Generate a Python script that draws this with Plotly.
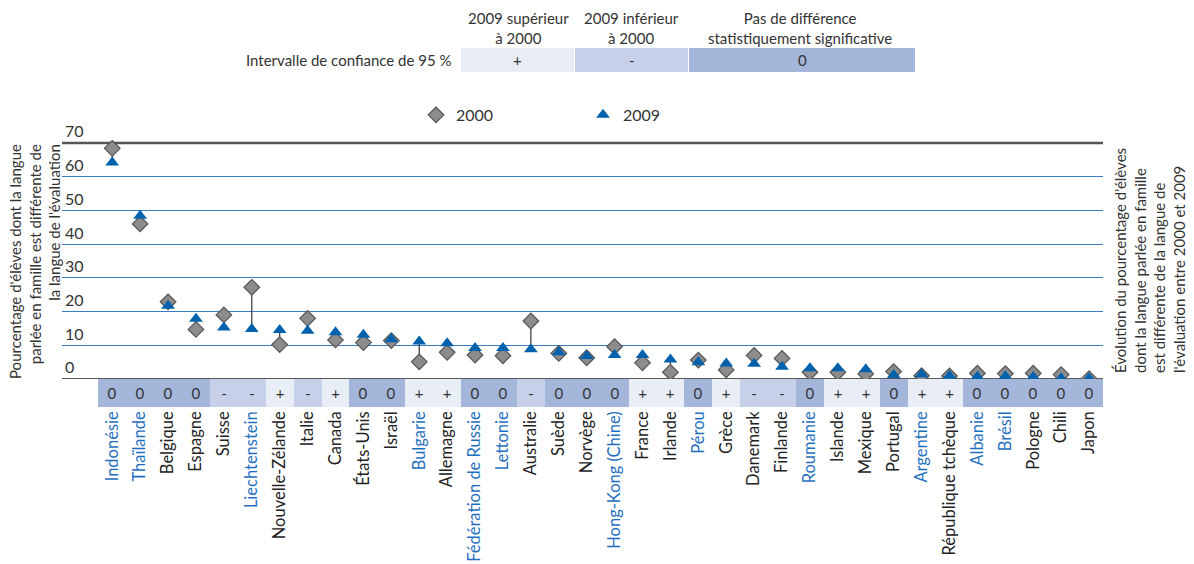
import plotly.graph_objects as go

countries = ["Indonésie", "Thaïlande", "Belgique", "Espagne", "Suisse", "Liechtenstein",
             "Nouvelle-Zélande", "Italie", "Canada", "États-Unis", "Israël", "Bulgarie",
             "Allemagne", "Fédération de Russie", "Lettonie", "Australie", "Suède", "Norvège",
             "Hong-Kong (Chine)", "France", "Irlande", "Pérou", "Grèce", "Danemark",
             "Finlande", "Roumanie", "Islande", "Mexique", "Portugal", "Argentine",
             "République tchèque", "Albanie", "Brésil", "Pologne", "Chili", "Japon"]
partners = ["Indonésie", "Thaïlande", "Liechtenstein", "Bulgarie", "Fédération de Russie",
            "Lettonie", "Hong-Kong (Chine)", "Pérou", "Roumanie", "Argentine", "Albanie", "Brésil"]
v2000 = [68.4, 46.0, 22.9, 14.7, 19.0, 27.2, 10.2, 18.0, 11.6, 10.8, 11.4, 5.1,
         7.9, 7.1, 6.9, 17.2, 7.6, 6.3, 9.6, 4.8, 2.0, 5.6, 2.7, 7.0,
         6.1, 2.0, 2.0, 1.5, 2.2, 1.0, 0.9, 1.7, 1.6, 1.7, 1.3, 0.1]
v2009 = [64.2, 48.4, 21.7, 17.9, 15.3, 14.8, 14.5, 14.3, 13.9, 13.1, 11.8, 11.1,
         10.6, 9.2, 9.2, 8.8, 7.9, 6.8, 7.1, 7.1, 5.8, 5.0, 4.6, 4.5,
         3.6, 3.2, 3.2, 2.9, 1.2, 1.4, 1.0, 0.7, 0.8, 0.6, 0.2, 0.2]
signs = ["0", "0", "0", "0", "-", "-", "+", "-", "+", "0", "0", "+",
         "+", "0", "0", "-", "0", "0", "0", "+", "+", "0", "+", "-",
         "-", "0", "+", "+", "0", "+", "+", "0", "0", "0", "0", "0"]
y_ticks = [0, 10, 20, 30, 40, 50, 60, 70]
grid_vals = [10, 20, 30, 40, 50, 60]

sign_colors = {"+": "#e9edf6", "-": "#c6d1e9", "0": "#a4b6da"}
BLUE_LABEL = "#1f6fbf"
FONT = "Lato"

idx = list(range(len(countries)))
ticktext = [f"<span style='color:{BLUE_LABEL}'>{c}</span>" if c in partners else c for c in countries]

# plot-area geometry (pixels): y=70 at 143 px, y=0 at 379 px
Y_TOP = 78
PX_PER_UNIT = (379 - 143) / 70
L, R, B = 62, 91, 157
T = 143 - (Y_TOP - 70) * PX_PER_UNIT
W, H = 1194, 564
PW, PH = W - L - R, H - T - B
BAND = 28


def xp(px):
    return (px - L) / PW


def yp(py):
    return (H - B - py) / PH


fig = go.Figure()

# connectors
cx, cy = [], []
for i, a, b in zip(idx, v2000, v2009):
    cx += [i, i, None]
    cy += [a, b, None]
fig.add_trace(go.Scatter(x=cx, y=cy, mode="lines", line=dict(color="#333333", width=1.2),
                         showlegend=False, hoverinfo="skip"))

fig.add_trace(go.Scatter(x=idx, y=v2000, mode="markers", name="2000",
                         marker=dict(symbol="diamond", size=12, color="#8c8c8c",
                                     line=dict(color="#555555", width=1.2))))
fig.add_trace(go.Scatter(x=idx, y=v2009, mode="markers", name="2009",
                         marker=dict(symbol="triangle-up", size=12, color="#0062ad",
                                     line=dict(width=0))))

# significance band
fig.add_trace(go.Bar(x=idx, y=[1] * len(idx), yaxis="y2", width=1,
                     marker=dict(color=[sign_colors[s] for s in signs], line=dict(width=0)),
                     text=signs, textposition="inside", insidetextanchor="middle",
                     textangle=0, textfont=dict(family=FONT, size=15, color="#333333"),
                     showlegend=False, hoverinfo="skip"))

fig.update_layout(
    width=W, height=H,
    margin=dict(l=L, r=R, t=T, b=B),
    paper_bgcolor="white", plot_bgcolor="white",
    font=dict(family=FONT, size=14, color="#333333"),
    bargap=0,
    xaxis=dict(range=[-1.8, 35.5], tickvals=idx, ticktext=ticktext, tickangle=-90,
               anchor="y2", showgrid=False, zeroline=False, showline=False,
               ticks="", tickfont=dict(family=FONT, size=16.5, color="#222222"),
               automargin=False),
    yaxis=dict(domain=[BAND / PH, 1], range=[0, Y_TOP], tickvals=y_ticks,
               ticktext=[str(v) for v in y_ticks],
               ticklabelposition="inside top", showgrid=False,
               minor=dict(tickvals=grid_vals, showgrid=True, gridcolor="#3a7dc2",
                          gridwidth=1, ticks=""),
               zeroline=False, showline=False, ticks="",
               tickfont=dict(family=FONT, size=16, color="#333333")),
    yaxis2=dict(domain=[0, BAND / PH], range=[0, 1], anchor="x", showgrid=False,
                zeroline=False, showticklabels=False, ticks=""),
    legend=dict(orientation="h", x=xp(416), y=yp(98), xanchor="left", yanchor="top",
                entrywidth=122, entrywidthmode="pixels",
                font=dict(family=FONT, size=16, color="#333333"), bgcolor="rgba(0,0,0,0)"),
    showlegend=True,
)

# top and bottom frame lines (70 and 0)
fig.add_shape(type="line", xref="paper", yref="y", x0=0, x1=1, y0=70, y1=70,
              line=dict(color="#555555", width=2.5), layer="below")
fig.add_shape(type="line", xref="paper", yref="y", x0=0, x1=1, y0=0, y1=0,
              line=dict(color="#222222", width=1.5), layer="below")

# header legend table
cells = [("+", 461, 574, sign_colors["+"]), ("-", 575, 688, sign_colors["-"]),
         ("0", 689, 915, sign_colors["0"])]
for s, x0, x1, col in cells:
    fig.add_shape(type="rect", xref="paper", yref="paper", x0=xp(x0), x1=xp(x1),
                  y0=yp(72), y1=yp(48), fillcolor=col, line=dict(width=0))
    fig.add_annotation(xref="paper", yref="paper", x=xp((x0 + x1) / 2), y=yp(60),
                       xanchor="center", yanchor="middle",
                       text=s, showarrow=False, font=dict(family=FONT, size=15, color="#333333"))

headers = [("2009 supérieur<br>à 2000", 518), ("2009 inférieur<br>à 2000", 631),
           ("Pas de différence<br>statistiquement significative", 800)]
for txt, cxp in headers:
    fig.add_annotation(xref="paper", yref="paper", x=xp(cxp), y=yp(28), text=txt,
                       xanchor="center", yanchor="middle",
                       showarrow=False, font=dict(family=FONT, size=15, color="#333333"))

fig.add_annotation(xref="paper", yref="paper", x=xp(454), y=yp(60), xanchor="right",
                   yanchor="middle",
                   text="Intervalle de confiance de 95 %", showarrow=False,
                   font=dict(family=FONT, size=15, color="#333333"))

fig.add_annotation(xref="paper", yref="paper", x=xp(35), y=yp(262), textangle=-90,
                   xanchor="center", yanchor="middle",
                   text="Pourcentage d'élèves dont la langue<br>parlée en famille est différente de<br>la langue de l'évaluation",
                   align="right", showarrow=False, font=dict(family=FONT, size=15, color="#333333"))

fig.add_annotation(xref="paper", yref="paper", x=xp(1150), y=yp(261), textangle=-90,
                   xanchor="center", yanchor="middle",
                   text="Évolution du pourcentage d'élèves<br>dont la langue parlée en famille<br>est différente de la langue de<br>l'évaluation entre 2000 et 2009",
                   align="left", showarrow=False, font=dict(family=FONT, size=15, color="#333333"))

fig.write_html("out.html")
